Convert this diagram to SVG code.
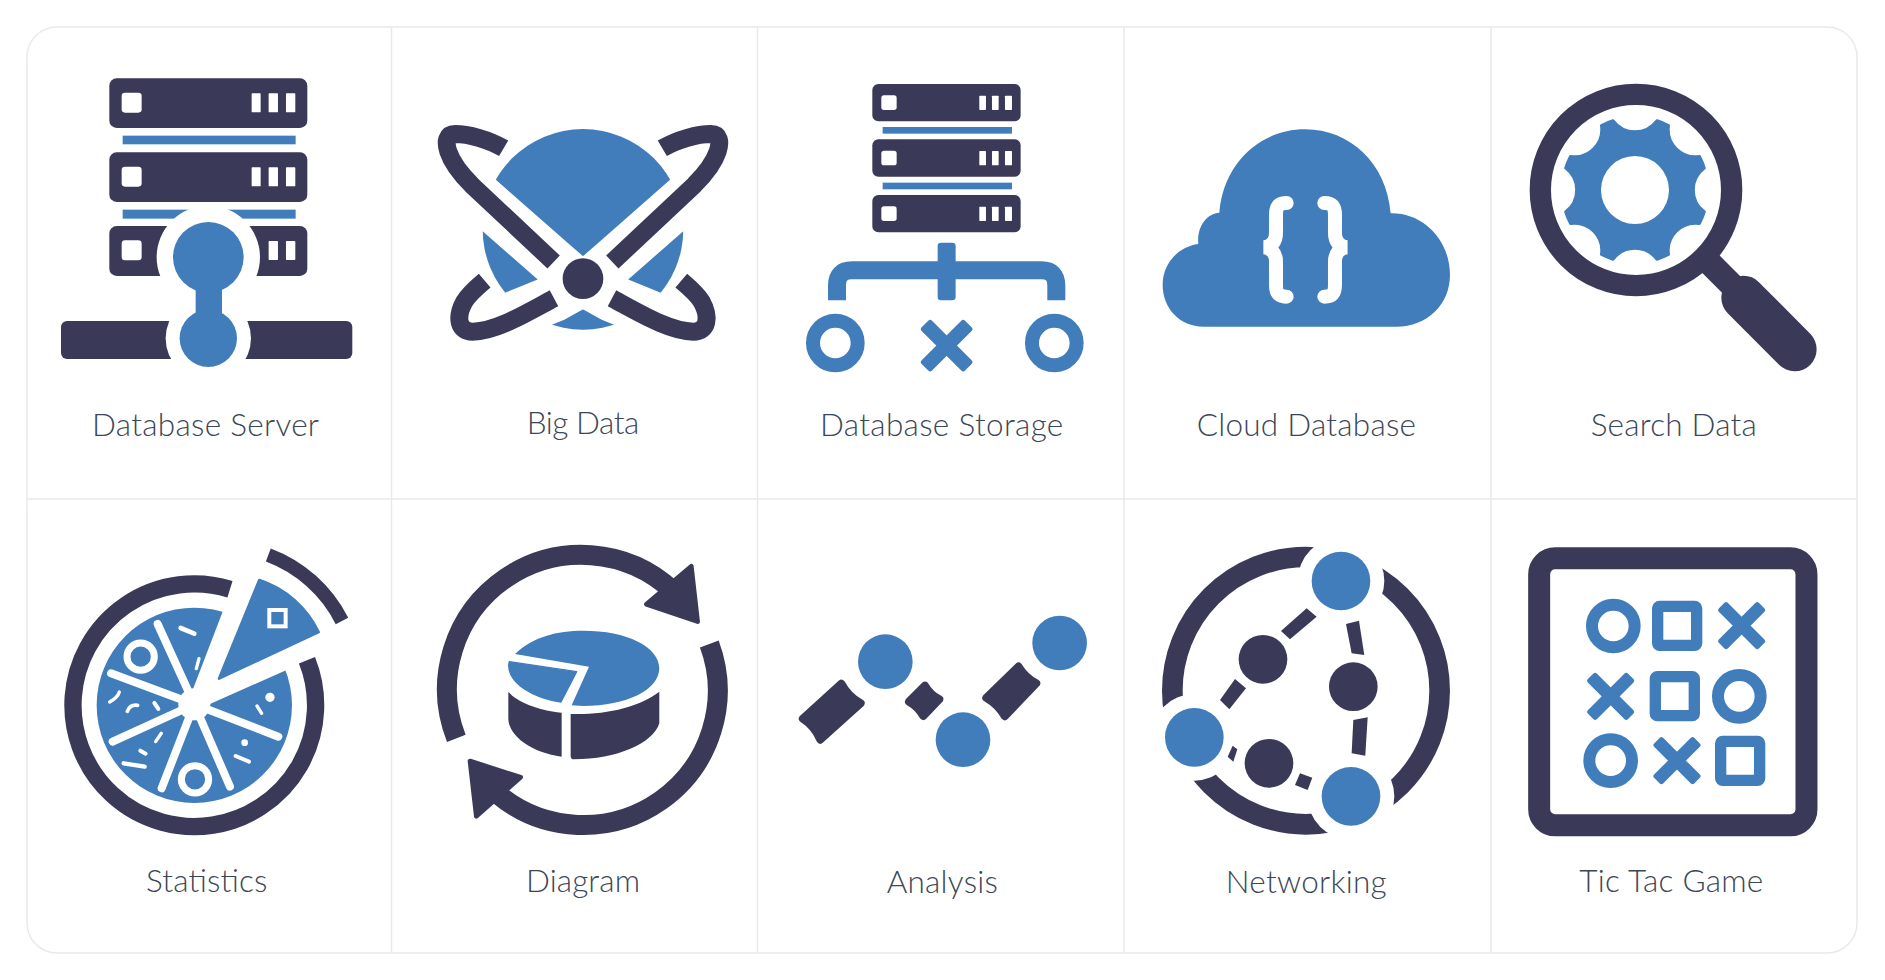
<svg xmlns="http://www.w3.org/2000/svg" width="1885" height="980" viewBox="0 0 1885 980">
<style>
.d{fill:#3a3a58}.b{fill:#417dba}.w{fill:#fff}
.ds{fill:none;stroke:#3a3a58}.bs{fill:none;stroke:#417dba}.ws{fill:none;stroke:#fff}
.g{fill:none;stroke:#e9e9e9;stroke-width:1.5}
.t{font-family:Lato,"Liberation Sans",sans-serif;font-weight:300;font-size:31.5px;fill:#3b4656}
</style>
<defs>
<g id="xm"><rect x="-85" y="-19" width="170" height="38" rx="7" transform="rotate(45)"/><rect x="-85" y="-19" width="170" height="38" rx="7" transform="rotate(-45)"/></g>
<g id="xl"><rect x="-92" y="-22" width="184" height="44" rx="8" transform="rotate(45)"/><rect x="-92" y="-22" width="184" height="44" rx="8" transform="rotate(-45)"/></g>
<g id="srvA"><rect class="d" x="238" y="0" width="594" height="149" rx="22"/><rect class="w" x="275" y="43" width="60" height="60" rx="10"/><rect class="w" x="665" y="45" width="27" height="57" rx="2"/><rect class="w" x="716" y="45" width="28" height="57" rx="2"/><rect class="w" x="768" y="45" width="28" height="57" rx="2"/></g>
<g id="srvB"><rect class="d" x="307" y="0" width="445" height="112" rx="18"/><rect class="w" x="334" y="34" width="46" height="44" rx="8"/><rect class="w" x="628" y="35" width="20" height="43" rx="2"/><rect class="w" x="666" y="35" width="20" height="43" rx="2"/><rect class="w" x="705" y="35" width="21" height="43" rx="2"/></g>
</defs>

<g id="frame">
<rect class="g" x="27" y="27" width="1830" height="926" rx="30"/>
<path class="g" d="M391.5 27V953M757.5 27V953M1124 27V953M1491 27V953M27 499H1857"/>
</g>

<g id="database-server">
<g transform="translate(30 30) scale(.3333)">
<use href="#srvA" y="145"/>
<use href="#srvA" y="367"/>
<rect class="b" x="278" y="317" width="519" height="26"/>
<rect class="b" x="278" y="539" width="519" height="27"/>
<g transform="translate(0 588)"><rect class="d" x="238" y="0" width="594" height="150" rx="22"/><rect class="w" x="275" y="43" width="60" height="60" rx="10"/><rect class="w" x="716" y="45" width="28" height="57" rx="2"/><rect class="w" x="768" y="45" width="28" height="57" rx="2"/></g>
<rect class="d" x="93" y="873" width="874" height="114" rx="18"/>
<circle class="w" cx="535" cy="682" r="155"/>
<circle class="w" cx="535" cy="925" r="128"/>
<rect class="b" x="497" y="760" width="79" height="110"/>
<circle class="b" cx="535" cy="682" r="106"/>
<circle class="b" cx="535" cy="925" r="86"/>
</g>
<text class="t" x="92" y="436" textLength="227">Database Server</text>
</g>

<g id="big-data">
<g transform="translate(400 30) scale(.3333)">
<circle class="b" cx="549" cy="598" r="301"/>
<path class="ws" stroke-width="142" d="M200 467L461 696L549 773M898 467L637 696L549 773M218 905L462 805L549 757M880 905L636 805L549 757"/>
<g class="ds" stroke-width="54">
<path d="M311 355C265 328 205 312 165 312C140 312 135 335 145 365C155 395 180 430 215 465L461 696"/>
<path d="M787 355C833 328 893 312 933 312C958 312 963 335 953 365C943 395 918 430 883 465L637 696"/>
<path d="M636 805C720 850 810 905 880 905C925 905 930 860 905 815C890 790 865 770 844 752"/>
<path d="M462 805C378 850 288 905 218 905C173 905 168 860 193 815C208 790 233 770 254 752"/>
</g>
<circle class="d" cx="549" cy="746" r="61"/>
</g>
<text class="t" x="526.7" y="434" textLength="112.6">Big Data</text>
</g>

<g id="database-storage">
<g transform="translate(770 30) scale(.3333)">
<use href="#srvB" y="162"/>
<use href="#srvB" y="328"/>
<use href="#srvB" y="495"/>
<rect class="b" x="338" y="291" width="388" height="20"/>
<rect class="b" x="338" y="458" width="388" height="20"/>
<rect class="b" x="503" y="638" width="54" height="173" rx="10"/>
<path class="bs" stroke-width="54" d="M201 811V766Q201 721 246 721H814Q859 721 859 766V811"/>
<circle class="bs" cx="196" cy="939" r="67" stroke-width="42"/>
<circle class="bs" cx="853" cy="939" r="67" stroke-width="42"/>
<use class="b" href="#xl" x="530" y="947"/>
</g>
<text class="t" x="820" y="436" textLength="243.3">Database Storage</text>
</g>

<g id="cloud-database">
<g transform="translate(1140 30) scale(.3333)">
<path class="b" d="M238 548C250 400 360 298 495 298C630 298 740 400 752 550C850 548 930 630 930 735C930 825 860 890 770 890L190 890C120 890 68 835 68 765C68 700 115 650 175 642C170 590 200 550 238 548Z"/>
<g class="ws" stroke-width="42" stroke-linecap="round">
<path d="M440 519C415 519 408 530 408 555L408 610C408 635 395 650 372 652C395 654 408 670 408 695L408 765C408 790 415 800 440 800"/>
<path d="M553 519C578 519 585 530 585 555L585 610C585 635 598 650 621 652C598 654 585 670 585 695L585 765C585 790 578 800 553 800"/>
</g>
</g>
<text class="t" x="1196.7" y="436" textLength="219.3">Cloud Database</text>
</g>

<g id="search-data">
<g transform="translate(1500 30) scale(.3333)">
<g transform="translate(405 480) scale(.98)">
<path class="b" stroke="#417dba" stroke-width="10" stroke-linejoin="round" d="M-67.1-211.6A84 84 0 0 0 67.1-211.6A222 222 0 0 1 102.2-197.1A84 84 0 0 0 197.1-102.2A222 222 0 0 1 211.6-67.1A84 84 0 0 0 211.6 67.1A222 222 0 0 1 197.1 102.2A84 84 0 0 0 102.2 197.1A222 222 0 0 1 67.1 211.6A84 84 0 0 0 -67.1 211.6A222 222 0 0 1 -102.2 197.1A84 84 0 0 0 -197.1 102.2A222 222 0 0 1 -211.6 67.1A84 84 0 0 0 -211.6 -67.1A222 222 0 0 1 -197.1 -102.2A84 84 0 0 0 -102.2 -197.1A222 222 0 0 1 -67.1 -211.6Z"/>
</g>
<circle class="w" cx="405" cy="480" r="102"/>
<circle class="ds" cx="408" cy="480" r="287" stroke-width="64"/>
<path class="ds" stroke-width="74" d="M625 695L730 800"/>
<path class="ds" stroke-width="132" stroke-linecap="round" d="M730 803L884 958"/>
</g>
<text class="t" x="1590.7" y="436" textLength="166">Search Data</text>
</g>

<g id="statistics">
<g transform="translate(30 520) scale(.3333)">
<circle class="b" cx="493" cy="556" r="293"/>
<polygon class="w" points="493,540 490,505 626,150 900,150 900,392 540,552"/>
<circle class="w" cx="493" cy="553" r="48"/>
<g class="ws" stroke-width="24" stroke-linecap="round">
<path d="M383 312L493 553L243 460M493 553L248 665M493 553L395 805M493 553L600 800M493 553L745 650"/>
</g>
<circle class="ws" cx="332" cy="410" r="41" stroke-width="21"/>
<circle class="ws" cx="495" cy="778" r="41" stroke-width="21"/>
<g class="ws" stroke-linecap="round">
<path stroke-width="14" d="M452 324L493 341"/>
<path stroke-width="10" d="M507 416L499 446"/>
<path stroke-width="10" d="M268 516Q263 533 239 546"/>
<path stroke-width="11" d="M323 556Q300 553 292 574"/>
<path stroke-width="12" d="M373 549L385 567"/>
<path stroke-width="10" d="M394 640L377 665"/>
<path stroke-width="12" d="M331 692L347 701"/>
<path stroke-width="13" d="M281 730L344 740"/>
<path stroke-width="10" d="M681 558L695 580"/>
<path stroke-width="12" d="M617 708L657 725"/>
</g>
<circle class="w" cx="720" cy="532" r="14"/>
<circle class="w" cx="644" cy="668" r="10"/>
<path class="ds" stroke-width="52" d="M600 208A364 364 0 1 0 831 421"/>
<path class="b" stroke="#417dba" stroke-width="8" stroke-linejoin="round" d="M567 476L688 180A300 300 0 0 1 866 336Z"/>
<rect x="718" y="270" width="49" height="49" fill="none" stroke="#fff" stroke-width="12"/>
<path class="ds" stroke-width="42" d="M715 105A408 408 0 0 1 936 303"/>
</g>
<text class="t" x="146" y="892" textLength="121.3">Statistics</text>
</g>

<g id="diagram">
<g transform="translate(400 520) scale(.3333)">
<g class="ds" stroke-width="60">
<path d="M169 655A403 403 0 0 1 818 212"/>
<path d="M928 372A403 403 0 0 1 290 820"/>
</g>
<g class="d" stroke="#3a3a58" stroke-width="14" stroke-linejoin="round">
<polygon points="874,139 893,305 739,253"/>
<polygon points="210,723 362,772 229,889"/>
</g>
<path class="b" d="M345 402C400 350 470 332 550 332C680 332 778 380 778 445C778 510 680 558 550 558L515 556L567 440L345 402Z"/>
<path class="b" stroke="#417dba" stroke-width="4" stroke-linejoin="round" d="M328 425L530 455L483 546C400 535 326 490 326 435Z"/>
<path class="d" d="M325 515C350 545 410 570 485 578V710C400 700 325 650 325 595Z"/>
<path class="d" d="M512 582C620 585 720 560 778 515V610C760 670 650 718 522 718Q512 718 512 708Z"/>
</g>
<text class="t" x="526" y="892" textLength="114">Diagram</text>
</g>

<g id="analysis">
<g transform="translate(770 580) scale(.3333)">
<g class="b"><circle cx="346" cy="245" r="82"/><circle cx="579" cy="479" r="82"/><circle cx="869" cy="189" r="82"/></g>
<g class="d" stroke="#3a3a58" stroke-width="24" stroke-linejoin="round">
<path d="M98.5 416L214 311Q234 349 272 370L151 479Q134 439 98.5 416Z"/>
<path d="M417 365L465 317Q480 343 508 358L460 408Q444 380 417 365Z"/>
<path d="M649 353.5L745.5 259.5Q765 292 799 310L704.5 408.5Q684 374 649 353.5Z"/>
</g>
</g>
<text class="t" x="886.7" y="892.5" textLength="111.3">Analysis</text>
</g>

<g id="networking">
<g transform="translate(1140 520) scale(.3333)">
<circle class="ds" cx="498" cy="512" r="401" stroke-width="62"/>
<g class="w"><circle cx="603" cy="183" r="130"/><circle cx="163" cy="652" r="130"/><circle cx="633" cy="829" r="130"/></g>
<g class="b"><circle cx="603" cy="183" r="88"/><circle cx="163" cy="652" r="88"/><circle cx="633" cy="829" r="88"/></g>
<g class="d">
<circle cx="369" cy="418" r="73"/><circle cx="640" cy="500" r="73"/><circle cx="387" cy="730" r="73"/>
<polygon points="500,265 530,290 450,358 423,333"/>
<polygon points="285,477 318,505 268,568 240,540"/>
<polygon points="618,312 657,302 673,405 635,400"/>
<polygon points="640,600 683,592 676,707 635,700"/>
<polygon points="278,677 292,688 280,725 263,710"/>
<polygon points="480,760 517,773 503,810 465,795"/>
</g>
</g>
<text class="t" x="1225.7" y="893" textLength="161">Networking</text>
</g>

<g id="tic-tac-game">
<g transform="translate(1500 520) scale(.3333)">
<rect class="ds" x="117.5" y="115" width="802" height="801" rx="48" stroke-width="66"/>
<g class="bs" stroke-width="36">
<circle cx="340" cy="318" r="64"/><circle cx="718" cy="529" r="64"/><circle cx="332" cy="722" r="64"/>
</g>
<g class="bs" stroke-width="34">
<rect x="473" y="259" width="117" height="117" rx="6"/>
<rect x="466" y="470" width="117" height="117" rx="6"/>
<rect x="662" y="664" width="117" height="117" rx="6"/>
</g>
<use class="b" href="#xm" x="725" y="317"/>
<use class="b" href="#xm" x="332" y="529"/>
<use class="b" href="#xm" x="531" y="722"/>
</g>
<text class="t" x="1579.3" y="892" textLength="184">Tic Tac Game</text>
</g>
</svg>
